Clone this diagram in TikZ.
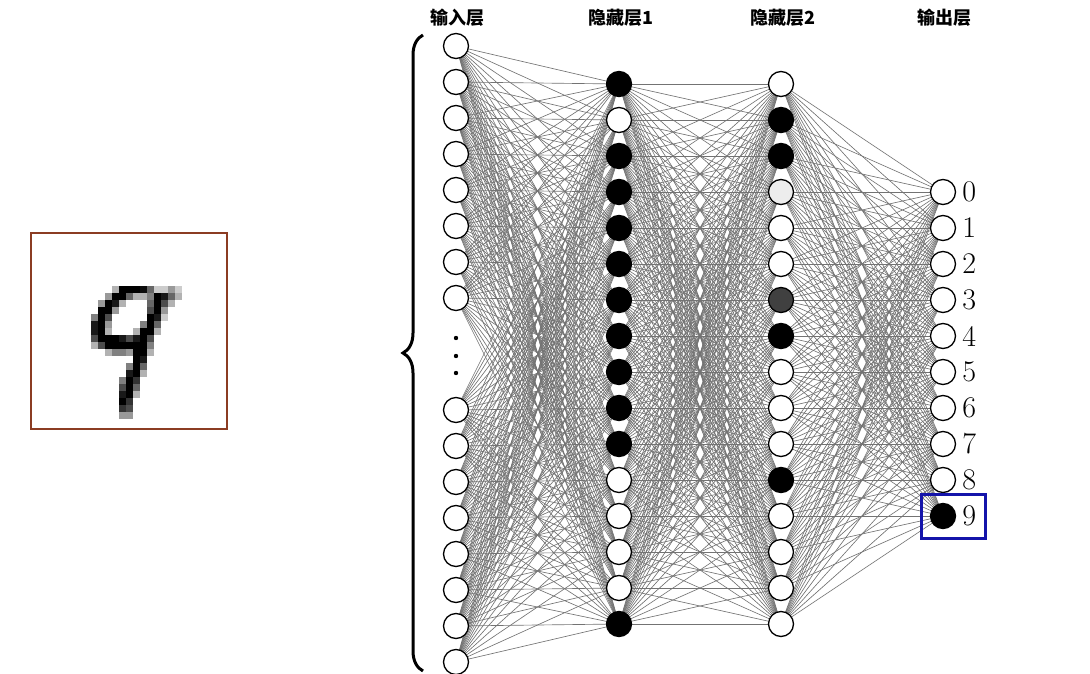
\documentclass[tikz,border=0pt]{standalone}
\usepackage{fontspec}
\newfontfamily\cjk{Noto Sans CJK SC}
\usetikzlibrary{decorations.pathreplacing,backgrounds}
\begin{document}
\begin{tikzpicture}[x=1pt,y=-1pt,
  neuron/.style={circle,draw=black,line width=1.3pt,minimum size=25pt,inner sep=0pt,fill=white},
  conn/.style={draw=black!55,line width=0.65pt},
  title/.style={font=\cjk\bfseries\fontsize{18}{20}\selectfont,inner sep=0pt},
  outlabel/.style={font=\fontsize{30}{32}\selectfont,anchor=west,inner sep=0pt},
  pix/.style={draw=none}]
\useasboundingbox (0,0) rectangle (1090,674);
% ---- input image
\foreach \r/\c/\v in {
 0/3/30,0/4/100,0/5/100,0/6/100,0/7/95,0/8/60,0/9/20,0/10/20,0/11/40,0/12/20,
 1/2/40,1/3/100,1/4/100,1/5/60,1/6/30,1/7/30,1/8/50,1/9/100,1/10/90,1/11/60,1/12/30,
 2/1/40,2/2/100,2/3/90,2/4/30,2/8/60,2/9/100,2/10/70,2/11/30,
 3/1/100,3/2/100,3/3/40,3/8/70,3/9/100,3/10/40,
 4/0/50,4/1/100,4/2/70,4/8/100,4/9/90,4/10/20,
 5/0/90,5/1/100,5/2/40,5/7/50,5/8/100,5/9/60,
 6/0/90,6/1/100,6/2/30,6/6/30,6/7/100,6/8/100,6/9/30,
 7/0/70,7/1/100,7/2/100,7/3/100,7/4/90,7/5/70,7/6/90,7/7/100,7/8/70,
 8/0/30,8/1/70,8/2/100,8/3/100,8/4/100,8/5/100,8/6/100,8/7/100,8/8/50,
 9/2/30,9/3/50,9/4/50,9/5/40,9/6/100,9/7/100,9/8/30,
 10/6/100,10/7/90,
 11/5/50,11/6/100,11/7/60,
 12/5/90,12/6/100,12/7/30,
 13/4/50,13/5/100,13/6/80,
 14/4/70,14/5/100,14/6/60,
 15/4/90,15/5/100,15/6/30,
 16/4/100,16/5/80,
 17/4/80,17/5/70,
 18/4/40,18/5/40}
  \fill[black!\v] ({91+7*\c},{286+7*\r}) rectangle ++(7,7);
\node[draw={rgb,255:red,139;green,60;blue,35},line width=2.2pt,minimum width=196pt,minimum height=196pt,inner sep=0pt] (img) at (129,331) {};
% ---- titles
\node[title] (t1) at (457,18) {输入层};
\node[title] (t2) at (621,18) {隐藏层1};
\node[title] (t3) at (783,18) {隐藏层2};
\node[title] (t4) at (944,18) {输出层};
% ---- input layer
\foreach \i in {1,...,8} \node[neuron] (a\i) at (456,{46+36*(\i-1)}) {};
\foreach \i in {9,...,16} \node[neuron] (a\i) at (456,{410+36*(\i-9)}) {};
\foreach \y in {338,356,373} \fill (456,\y) circle (2.2);
% ---- hidden 1
\foreach \i/\f in {1/black,2/white,3/black,4/black,5/black,6/black,7/black,8/black,9/black,10/black,11/black,12/white,13/white,14/white,15/white,16/black}
  \node[neuron,fill=\f] (b\i) at (619,{84+36*(\i-1)}) {};
% ---- hidden 2
\foreach \i/\f in {1/white,2/black,3/black,4/black!7,5/white,6/white,7/black!75,8/black,9/white,10/white,11/white,12/black,13/white,14/white,15/white,16/white}
  \node[neuron,fill=\f] (c\i) at (781,{84+36*(\i-1)}) {};
% ---- output
\foreach \i in {0,...,8} \node[neuron] (o\i) at (943,{192+36*\i}) {};
\node[neuron,fill=black] (o9) at (943,516) {};
\foreach \i in {0,...,9} \node[outlabel] (l\i) at ([xshift=6pt]o\i.east) {\i};
\node[draw={rgb,255:red,20;green,20;blue,170},line width=2.4pt,minimum width=64pt,minimum height=44pt,inner sep=0pt] (sel) at (953.5,516.5) {};
% ---- connections
\begin{pgfonlayer}{background}
\foreach \i in {1,...,16}{
  \foreach \j in {1,...,16}{
    \draw[conn] (a\i.center) -- (b\j.center);
    \draw[conn] (b\i.center) -- (c\j.center);
  }
  \foreach \k in {0,...,9} \draw[conn] (c\i.center) -- (o\k.center);
}
\end{pgfonlayer}
% ---- brace
\draw[decorate,decoration={brace,amplitude=20pt},line width=3pt] (423,671) -- (423,35);
\end{tikzpicture}
\end{document}
